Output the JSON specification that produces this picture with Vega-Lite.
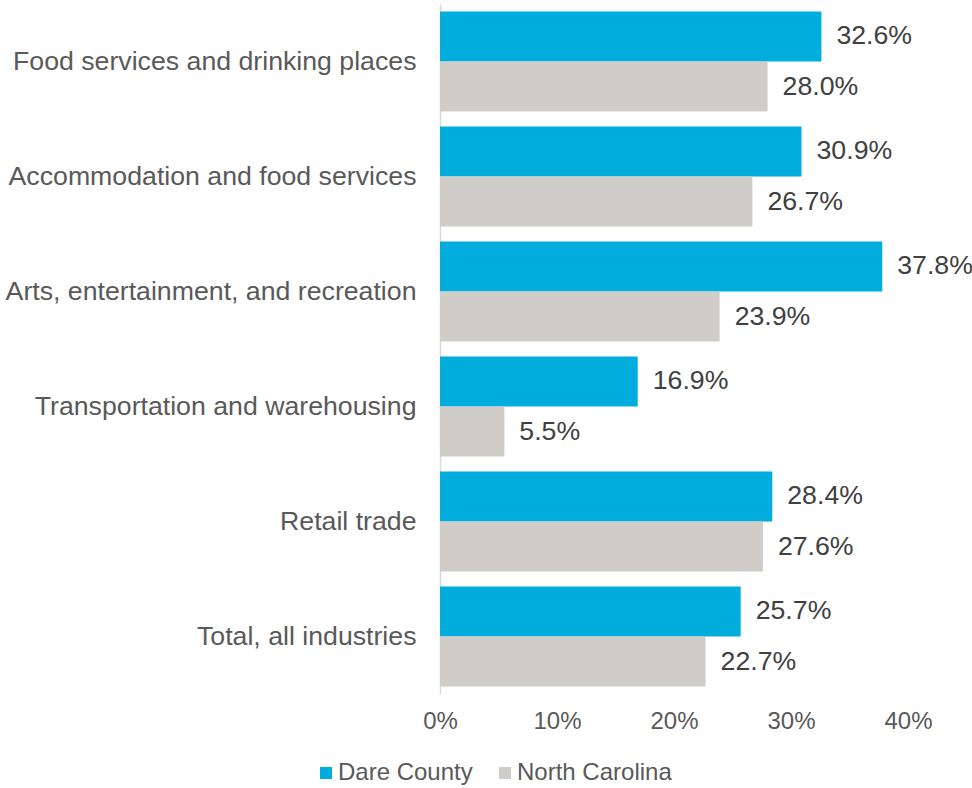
{
  "$schema": "https://vega.github.io/schema/vega-lite/v6.json",
  "width": 468,
  "height": 690,
  "autosize": {"type": "none"},
  "padding": {"left": 440, "top": 4, "right": 64, "bottom": 94},
  "background": "white",
  "config": {
    "view": {"stroke": null},
    "font": "Liberation Sans",
    "text": {"font": "Liberation Sans"}
  },
  "data": {
    "values": [
      {"industry": "Food services and drinking places", "region": "Dare County", "value": 0.326},
      {"industry": "Food services and drinking places", "region": "North Carolina", "value": 0.280},
      {"industry": "Accommodation and food services", "region": "Dare County", "value": 0.309},
      {"industry": "Accommodation and food services", "region": "North Carolina", "value": 0.267},
      {"industry": "Arts, entertainment, and recreation", "region": "Dare County", "value": 0.378},
      {"industry": "Arts, entertainment, and recreation", "region": "North Carolina", "value": 0.239},
      {"industry": "Transportation and warehousing", "region": "Dare County", "value": 0.169},
      {"industry": "Transportation and warehousing", "region": "North Carolina", "value": 0.055},
      {"industry": "Retail trade", "region": "Dare County", "value": 0.284},
      {"industry": "Retail trade", "region": "North Carolina", "value": 0.276},
      {"industry": "Total, all industries", "region": "Dare County", "value": 0.257},
      {"industry": "Total, all industries", "region": "North Carolina", "value": 0.227}
    ]
  },
  "encoding": {
    "y": {
      "field": "industry",
      "type": "nominal",
      "sort": null,
      "scale": {"paddingInner": 0.13, "paddingOuter": 0.065},
      "axis": {
        "title": null,
        "ticks": false,
        "domainColor": "#d9d9d9",
        "domainWidth": 1.5,
        "labelFontSize": 26.7,
        "labelColor": "#595959",
        "labelPadding": 24,
        "labelLimit": 500,
        "grid": false
      }
    },
    "yOffset": {
      "field": "region",
      "type": "nominal",
      "sort": ["Dare County", "North Carolina"],
      "scale": {"paddingInner": 0, "paddingOuter": 0}
    },
    "x": {
      "field": "value",
      "type": "quantitative",
      "scale": {"domain": [0, 0.4]},
      "axis": {
        "title": null,
        "format": ".0%",
        "values": [0, 0.1, 0.2, 0.3, 0.4],
        "domain": false,
        "ticks": false,
        "grid": false,
        "labelFlush": false,
        "labelFontSize": 24,
        "labelColor": "#595959",
        "labelPadding": 15
      }
    }
  },
  "layer": [
    {
      "mark": {"type": "bar"},
      "encoding": {
        "color": {
          "field": "region",
          "type": "nominal",
          "scale": {"domain": ["Dare County", "North Carolina"], "range": ["#00ADDC", "#D0CDC9"]},
          "legend": {
            "title": null,
            "orient": "none",
            "direction": "horizontal",
            "legendX": -126,
            "legendY": 757,
            "symbolType": "square",
            "symbolSize": 144,
            "symbolStrokeWidth": 0,
            "labelFontSize": 24,
            "labelColor": "#595959",
            "labelOffset": 0,
            "columnPadding": 20
          }
        }
      }
    },
    {
      "mark": {"type": "text", "align": "left", "baseline": "middle", "dx": 15, "fontSize": 26.7, "color": "#404040"},
      "encoding": {
        "text": {"field": "value", "type": "quantitative", "format": ".1%"}
      }
    }
  ]
}
